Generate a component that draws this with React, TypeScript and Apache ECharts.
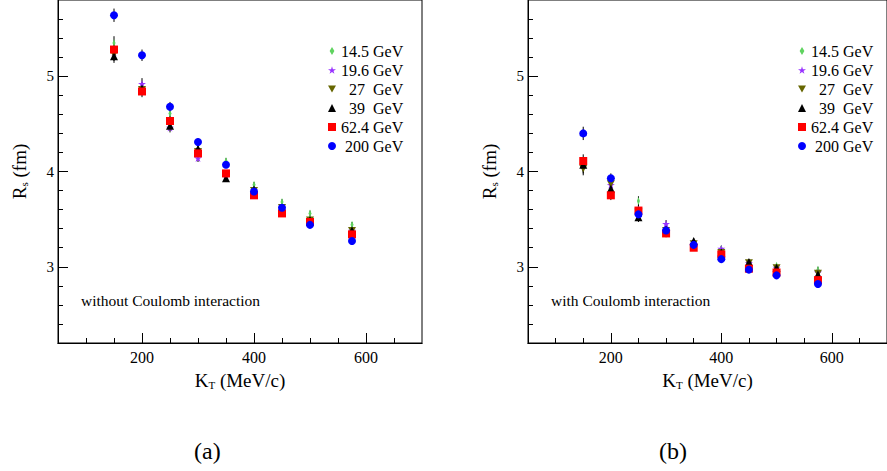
import React, { useEffect, useRef } from "react";
import * as echarts from "echarts";

const kT = [150, 200, 250, 300, 350, 400, 450, 500, 575];

// without Coulomb interaction (a)
const noC_14 = [5.35, 4.88, 4.61, 4.23, 4.11, 3.86, 3.68, 3.56, 3.44];
const noC_19 = [5.25, 4.92, 4.46, 4.14, 3.97, 3.8, 3.62, 3.49, 3.38];
const noC_27 = [5.23, 4.86, 4.5, 4.21, 3.95, 3.8, 3.62, 3.49, 3.38];
const noC_39 = [5.21, 4.87, 4.48, 4.24, 3.93, 3.81, 3.62, 3.49, 3.38];
const noC_62 = [5.28, 4.84, 4.53, 4.19, 3.98, 3.75, 3.56, 3.47, 3.34];
const noC_200 = [5.64, 5.22, 4.68, 4.31, 4.07, 3.79, 3.62, 3.44, 3.27];
const noC_err = [0.07, 0.06, 0.05, 0.04, 0.03, 0.03, 0.03, 0.03, 0.03];

// with Coulomb interaction (b)
const C_14 = [4.05, 3.86, 3.69, 3.4, 3.25, 3.19, 3.04, 3.01, 2.97];
const C_19 = [4.08, 3.86, 3.6, 3.45, 3.24, 3.19, 3.04, 2.99, 2.94];
const C_27 = [4.03, 3.87, 3.57, 3.38, 3.24, 3.15, 3.04, 2.99, 2.93];
const C_39 = [4.07, 3.82, 3.52, 3.39, 3.27, 3.15, 3.05, 2.99, 2.92];
const C_62 = [4.11, 3.75, 3.59, 3.35, 3.2, 3.13, 2.98, 2.94, 2.86];
const C_200 = [4.4, 3.93, 3.55, 3.38, 3.23, 3.08, 2.97, 2.91, 2.82];
const C_err = [0.07, 0.05, 0.05, 0.04, 0.03, 0.03, 0.03, 0.03, 0.03];

const yMajorTicks = [3, 4, 5];
const yMinorTicks = [2.4, 2.6, 2.8, 3.2, 3.4, 3.6, 3.8, 4.2, 4.4, 4.6, 4.8, 5.2, 5.4, 5.6];
const xMajorTicks = [200, 400, 600];
const xMinorTicks = [100, 150, 250, 300, 350, 450, 500, 550, 650];

const legendNames = [
  "14.5 GeV",
  "19.6 GeV",
  "\u200727\u2008 GeV",
  "\u200739\u2008 GeV",
  "62.4 GeV",
  "\u2008200 GeV",
];

const FONT = "Liberation Serif";
const STAR = "path://M50,0 L61,35 L98,35 L68,57 L79,91 L50,70 L21,91 L32,57 L2,35 L39,35 Z";
const DOWN_TRI = "path://M0,0 L10,0 L5,9 Z";
const THIN_DIAMOND = "path://M3,0 L6,5 L3,10 L0,5 Z";

const styles = [
  { symbol: THIN_DIAMOND, size: [5, 8], color: "#5fd35f" },
  { symbol: STAR, size: 8, color: "#9933ff" },
  { symbol: DOWN_TRI, size: 8, color: "#666600" },
  { symbol: "triangle", size: 8, color: "#000000" },
  { symbol: "rect", size: 8, color: "#ff0000" },
  { symbol: "circle", size: 8, color: "#0000ff" },
];

function makeAxes(grid: number, xName: string) {
  const black = { color: "#000", width: 1 };
  const xAxes = [
    {
      gridIndex: grid, type: "value", min: 50, max: 700, position: "bottom",
      axisLine: { show: true, onZero: false, lineStyle: black },
      axisTick: { show: true, inside: true, length: 5, lineStyle: black, customValues: xMinorTicks },
      axisLabel: { show: false }, splitLine: { show: false },
    },
    {
      gridIndex: grid, type: "value", min: 50, max: 700, position: "bottom",
      axisLine: { show: true, onZero: false, lineStyle: black },
      axisTick: { show: true, inside: true, length: 10, lineStyle: black, customValues: xMajorTicks },
      axisLabel: { show: true, customValues: xMajorTicks, fontFamily: FONT, fontSize: 16, color: "#000", margin: 6 },
      splitLine: { show: false },
      name: xName, nameLocation: "middle", nameGap: 27,
      nameTextStyle: {
        color: "#000", fontFamily: FONT,
        rich: {
          m: { fontFamily: FONT, fontSize: 19, color: "#000" },
          s: { fontFamily: FONT, fontSize: 11, color: "#000", padding: [9, 0, 0, 0] },
        },
      },
    },
  ];
  const yAxes = [
    {
      gridIndex: grid, type: "value", min: 2.2, max: 5.8, interval: 0.2, position: "left",
      axisLine: { show: true, onZero: false, lineStyle: black },
      axisTick: { show: true, inside: true, length: 5, lineStyle: black, customValues: yMinorTicks },
      axisLabel: { show: false }, splitLine: { show: false },
    },
    {
      gridIndex: grid, type: "value", min: 2.2, max: 5.8, position: "left",
      axisLine: { show: true, onZero: false, lineStyle: black },
      axisTick: { show: true, inside: true, length: 10, lineStyle: black, customValues: yMajorTicks },
      axisLabel: { show: true, customValues: yMajorTicks, fontFamily: FONT, fontSize: 15, color: "#000", margin: 4 },
      splitLine: { show: false },
      name: "{m|R}{s|s}{m| (fm)}", nameLocation: "middle", nameGap: 29,
      nameTextStyle: {
        color: "#000", fontFamily: FONT,
        rich: {
          m: { fontFamily: FONT, fontSize: 19, color: "#000" },
          s: { fontFamily: FONT, fontSize: 11, color: "#000", padding: [9, 0, 0, 0] },
        },
      },
    },
  ];
  return { xAxes, yAxes };
}

function panelSeries(values: number[][], errs: number[], axisIdx: number) {
  const out: any[] = [];
  const errData: number[][] = [];
  values.forEach((vals) => {
    vals.forEach((v, i) => errData.push([kT[i], v - errs[i], v + errs[i]]));
  });
  out.push({
    type: "custom",
    xAxisIndex: axisIdx,
    yAxisIndex: axisIdx,
    z: 1,
    silent: true,
    encode: { x: 0, y: [1, 2] },
    data: errData,
    renderItem: (params: any, api: any) => {
      const x = api.value(0);
      const p1 = api.coord([x, api.value(1)]);
      const p2 = api.coord([x, api.value(2)]);
      return {
        type: "line",
        shape: { x1: p1[0], y1: p1[1], x2: p2[0], y2: p2[1] },
        style: { stroke: "#000", lineWidth: 1 },
      };
    },
  });
  values.forEach((vals, si) => {
    const st = styles[si];
    out.push({
      type: "scatter",
      name: legendNames[si],
      xAxisIndex: axisIdx,
      yAxisIndex: axisIdx,
      z: 2 + si,
      symbol: st.symbol,
      symbolSize: st.size,
      symbolKeepAspect: true,
      itemStyle: { color: st.color, opacity: 1 },
      emphasis: { disabled: true },
      data: vals.map((v, i) => [kT[i], v]),
    });
  });
  return out;
}

export default function App() {
  const ref = useRef<HTMLDivElement>(null);
  useEffect(() => {
    if (!ref.current) return;
    const chart = echarts.init(ref.current, null, { renderer: "svg" });
    const xName = "{m|K}{s|T}{m| (MeV/c)}";
    const a = makeAxes(0, xName);
    const b = makeAxes(1, xName);
    const legendBase = {
      orient: "vertical", top: 43, padding: 0, itemWidth: 8, itemHeight: 8, itemGap: 3,
      selectedMode: false,
      symbolKeepAspect: true,
      textStyle: { fontFamily: FONT, fontSize: 16, color: "#000" },
      data: legendNames,
    };
    const option: any = {
      animation: false,
      backgroundColor: "#fff",
      textStyle: { fontFamily: FONT },
      grid: [
        { left: 58, top: -2, width: 364, height: 345, show: true, borderColor: "#000", borderWidth: 1, backgroundColor: "transparent" },
        { left: 528, top: -2, width: 365, height: 345, show: true, borderColor: "#000", borderWidth: 1, backgroundColor: "transparent" },
      ],
      xAxis: [...a.xAxes, ...b.xAxes],
      yAxis: [...a.yAxes, ...b.yAxes],
      legend: [
        { ...legendBase, left: 328 },
        { ...legendBase, left: 798 },
      ],
      graphic: [
        { type: "text", left: 81, top: 292, style: { text: "without Coulomb interaction", fontFamily: FONT, fontSize: 15.5, fill: "#000" } },
        { type: "text", left: 551, top: 292, style: { text: "with Coulomb interaction", fontFamily: FONT, fontSize: 15.5, fill: "#000" } },
        { type: "text", left: 194, top: 439, style: { text: "(a)", fontFamily: FONT, fontSize: 24, fill: "#000" } },
        { type: "text", left: 659, top: 439, style: { text: "(b)", fontFamily: FONT, fontSize: 24, fill: "#000" } },
      ],
      series: [
        ...panelSeries([noC_14, noC_19, noC_27, noC_39, noC_62, noC_200], noC_err, 0),
        ...panelSeries([C_14, C_19, C_27, C_39, C_62, C_200], C_err, 2),
      ],
    };
    chart.setOption(option);
    return () => chart.dispose();
  }, []);
  return (
    <div
      ref={ref}
      style={{ position: "fixed", left: 0, top: 0, width: 887, height: 471, background: "#fff" }}
    />
  );
}
